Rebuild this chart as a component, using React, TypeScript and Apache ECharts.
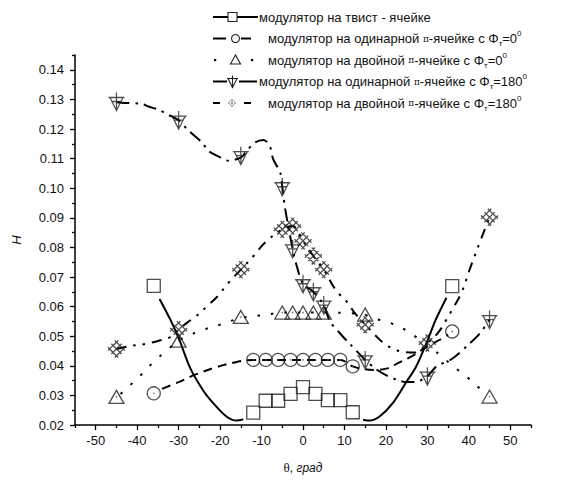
import React, { useEffect, useRef } from 'react';
import * as echarts from 'echarts';

// ---- axis ticks ----
const X_TICKS = [-50, -40, -30, -20, -10, 0, 10, 20, 30, 40, 50];
const X_MINOR = [-55, -45, -35, -25, -15, -5, 5, 15, 25, 35, 45, 55];
const Y_TICKS = [0.02, 0.03, 0.04, 0.05, 0.06, 0.07, 0.08, 0.09, 0.1, 0.11, 0.12, 0.13, 0.14];
const Y_MINOR = [0.025, 0.035, 0.045, 0.055, 0.065, 0.075, 0.085, 0.095, 0.105, 0.115, 0.125, 0.135, 0.145];

// ---- legend labels ----
const LABELS = [
  'модулятор на твист - ячейке',
  'модулятор на одинарной π-ячейке с Φт=0⁰',
  'модулятор на двойной π-ячейке с Φт=0⁰',
  'модулятор на одинарной π-ячейке с Φт=180⁰',
  'модулятор на двойной π-ячейке с Φт=180⁰',
];

// ---- measured points ----
const twistX = [-36, -12, -9, -6, -3, 0, 3, 6, 9, 12, 36];
const twistH = [0.067, 0.0242, 0.0282, 0.0282, 0.0305, 0.0328, 0.0305, 0.0284, 0.0284, 0.0243, 0.0669];

const single0X = [-36, -12, -9, -6, -3, 0, 3, 6, 9, 12, 36];
const single0H = [0.0307, 0.042, 0.042, 0.042, 0.042, 0.042, 0.042, 0.042, 0.042, 0.0398, 0.0516];

const double0X = [-45, -30, -15, -5, -2.5, 0, 2.5, 5, 15, 45];
const double0H = [0.0295, 0.0485, 0.0565, 0.058, 0.058, 0.058, 0.058, 0.058, 0.0573, 0.0296];

const single180X = [-45, -30, -15, -5, -2.5, 0, 2.5, 5, 15, 30, 45];
const single180H = [0.1293, 0.123, 0.111, 0.1005, 0.0795, 0.0677, 0.065, 0.0605, 0.042, 0.0365, 0.0556];

const double180X = [-45, -30, -15, -5, -2.5, 0, 2.5, 5, 15, 30, 45];
const double180H = [0.0457, 0.0522, 0.0725, 0.0861, 0.0872, 0.0822, 0.0771, 0.0725, 0.0539, 0.0477, 0.0902];

// ---- fitted curves ----
const twistFitL = [[-34.6, 0.0626], [-32, 0.0556], [-30, 0.0494], [-27.2, 0.0392], [-24, 0.0315], [-21.6, 0.0273], [-18.4, 0.0228], [-16, 0.0215], [-14.4, 0.0219]];
const twistFitR = [[14.5, 0.0218], [16, 0.0215], [18.4, 0.0228], [21.6, 0.0273], [25, 0.0347], [27.2, 0.0395], [29.8, 0.0477], [32, 0.0555], [34.6, 0.063]];
const single0Fit = [[-34, 0.0322], [-30, 0.0345], [-26, 0.037], [-21, 0.0395], [-16, 0.0413], [-12, 0.042], [9, 0.042], [12, 0.0398], [15, 0.0388], [17.7, 0.0386], [20.6, 0.0392], [23, 0.041], [26.2, 0.0432], [30, 0.0465], [33, 0.0488], [35, 0.0505]];
const double0Fit = [[-44, 0.0305], [-39.3, 0.0366], [-35.9, 0.0415], [-32.7, 0.0454], [-30, 0.0485], [-27.6, 0.0502], [-24, 0.0522], [-20, 0.0539], [-15, 0.0562], [-12.4, 0.0567], [-8.7, 0.0573], [-5, 0.058], [5, 0.058], [11, 0.0578], [15, 0.0572], [17.7, 0.0558], [21, 0.0545], [24.6, 0.0522], [28, 0.049], [31, 0.046], [34, 0.0425], [37, 0.039], [39.4, 0.0364], [43, 0.0319], [44.5, 0.0302]];
const single180Fit = [[-45, 0.129], [-42.9, 0.1288], [-39, 0.1285], [-37.3, 0.1276], [-35, 0.1266], [-32.4, 0.1247], [-30, 0.123], [-28, 0.12], [-24.4, 0.1155], [-22.8, 0.1126], [-20.8, 0.111], [-18, 0.1093], [-15, 0.1103], [-13.6, 0.1126], [-11.5, 0.1155], [-9.5, 0.1163], [-8, 0.1142], [-7.2, 0.1098], [-5.5, 0.1053], [-5, 0.1005], [-4.3, 0.093], [-2.5, 0.0795], [-1.5, 0.0737], [0, 0.0677], [2.5, 0.065], [5, 0.0605], [6.5, 0.055], [8.9, 0.051], [10.9, 0.048], [15, 0.042], [17.3, 0.0392], [19.8, 0.037], [22.6, 0.0353], [25, 0.0345], [27, 0.0345], [30, 0.0365], [32.2, 0.0398], [35.8, 0.0422], [39.8, 0.047], [42.7, 0.051], [45, 0.0556]];
const double180Fit = [[-45, 0.0457], [-42, 0.0466], [-38, 0.0474], [-35, 0.0484], [-32, 0.0497], [-30, 0.0522], [-28, 0.0545], [-25.6, 0.057], [-23, 0.0603], [-20.6, 0.0635], [-18, 0.068], [-15, 0.0725], [-12, 0.077], [-9.2, 0.0816], [-5, 0.0861], [-2.5, 0.0872], [0, 0.0822], [2.5, 0.0771], [5, 0.0725], [7.3, 0.0669], [8.9, 0.064], [10.5, 0.0618], [12.5, 0.0578], [15, 0.0539], [17.3, 0.0505], [19, 0.0482], [21.4, 0.046], [23.8, 0.0448], [27, 0.0445], [30, 0.0477], [32.5, 0.051], [34.6, 0.0556], [36.2, 0.0595], [38.2, 0.0646], [40.5, 0.0737], [43, 0.083], [45, 0.0902]];

const DOWN_TRI = 'path://M8 0L8 18M0 5L16 5M3.3 9L12.7 9M1.5 5L8 18L14.5 5';
const HATCH = 'path://M0 6L6 0M2 8L8 2M4 10L10 4M0 4L6 10M2 2L8 8M4 0L10 6';

const FONT = '"Liberation Sans", Arial, sans-serif';
const INK = '#111';
const MK = '#222';

const zip = (xs: number[], ys: number[]) => xs.map((x, i) => [x, ys[i]]);

function fitLine(data: number[][], dash: any, smooth = 0.35) {
  return {
    type: 'line', data, symbol: 'none', smooth, silent: true, z: 2,
    lineStyle: { color: '#000', width: 2, type: dash, cap: 'butt' },
  };
}
function markers(data: number[][], symbol: string, size: any) {
  return {
    type: 'scatter', data, symbol, symbolSize: size, silent: true, z: 3,
    itemStyle: { color: 'none', borderColor: MK, borderWidth: 1.3 },
  };
}
function dots(data: number[][]) {
  return {
    type: 'scatter', data, symbol: 'circle', symbolSize: 1.6, silent: true, z: 4,
    itemStyle: { color: '#555' },
  };
}

function legendRich(label: string) {
  const m = label.match(/^(.*?)π(.*?Φ)т=(\d+)⁰$/);
  if (!m) return `{n|${label}}`;
  return `{n|${m[1]}}{p|π}{n|${m[2]}}{sb|т}{n|=${m[3]}}{sp|0}`;
}

function buildLegend() {
  const els: any[] = [];
  const rows = [17, 38.5, 60, 81.5, 103];
  const textX = [259, 268, 268, 259, 268];
  const lw = { stroke: '#000', lineWidth: 2 };
  const mk = { stroke: MK, lineWidth: 1.1, fill: 'none' };
  els.push({ type: 'line', shape: { x1: 213, y1: rows[0], x2: 258, y2: rows[0] }, style: lw });
  els.push({ type: 'rect', shape: { x: 228, y: rows[0] - 4.5, width: 9, height: 9 }, style: { ...mk, fill: '#fff' } });
  els.push({ type: 'line', shape: { x1: 213, y1: rows[1], x2: 226, y2: rows[1] }, style: lw });
  els.push({ type: 'line', shape: { x1: 241, y1: rows[1], x2: 251, y2: rows[1] }, style: lw });
  els.push({ type: 'circle', shape: { cx: 235.5, cy: rows[1], r: 4 }, style: mk });
  els.push({ type: 'rect', shape: { x: 214, y: rows[2] - 1, width: 2.2, height: 2.2 }, style: { fill: '#000' } });
  els.push({ type: 'rect', shape: { x: 251, y: rows[2] - 1, width: 2.2, height: 2.2 }, style: { fill: '#000' } });
  els.push({ type: 'polygon', shape: { points: [[235.5, rows[2] - 5], [230.5, rows[2] + 4], [240.5, rows[2] + 4]] }, style: mk });
  els.push({ type: 'line', shape: { x1: 213, y1: rows[3], x2: 227, y2: rows[3] }, style: lw });
  els.push({ type: 'line', shape: { x1: 239, y1: rows[3], x2: 257, y2: rows[3] }, style: lw });
  const c4 = 232.5, y4 = rows[3];
  els.push({ type: 'line', shape: { x1: c4, y1: y4 - 6, x2: c4, y2: y4 + 6 }, style: mk });
  els.push({ type: 'line', shape: { x1: c4 - 5.5, y1: y4 - 3, x2: c4 + 5.5, y2: y4 - 3 }, style: mk });
  els.push({ type: 'polyline', shape: { points: [[c4 - 4.5, y4 - 3], [c4, y4 + 6], [c4 + 4.5, y4 - 3]] }, style: mk });
  els.push({ type: 'line', shape: { x1: 213, y1: rows[4], x2: 220, y2: rows[4] }, style: lw });
  els.push({ type: 'line', shape: { x1: 244, y1: rows[4], x2: 251, y2: rows[4] }, style: lw });
  const c5 = 232, y5 = rows[4], s = 0.78;
  const hs = [[0, 6, 6, 0], [2, 8, 8, 2], [4, 10, 10, 4], [0, 4, 6, 10], [2, 2, 8, 8], [4, 0, 10, 6]];
  hs.forEach(([a, b, c, d]) => els.push({
    type: 'line',
    shape: { x1: c5 + (a - 5) * s, y1: y5 + (b - 5) * s, x2: c5 + (c - 5) * s, y2: y5 + (d - 5) * s },
    style: { stroke: '#999', lineWidth: 1 },
  }));
  LABELS.forEach((lab, i) => {
    els.push({
      type: 'text', x: textX[i], y: rows[i],
      style: {
        text: legendRich(lab), fill: INK, verticalAlign: 'middle',
        rich: {
          n: { fontFamily: FONT, fontSize: 13, lineHeight: 18, fill: INK },
          p: { fontFamily: '"DejaVu Serif", serif', fontSize: 9, lineHeight: 18, fill: INK },
          sb: { fontFamily: FONT, fontSize: 8, lineHeight: 8, verticalAlign: 'bottom', fill: INK },
          sp: { fontFamily: FONT, fontSize: 8, lineHeight: 8, verticalAlign: 'top', fill: INK },
        },
      },
    });
  });
  return els;
}

export default function App() {
  const ref = useRef<HTMLDivElement>(null);
  useEffect(() => {
    if (!ref.current) return;
    const chart = echarts.init(ref.current, null, { renderer: 'svg' });
    const axisCommon = { min: -55, max: 55, type: 'value' as const };
    chart.setOption({
      animation: false,
      backgroundColor: '#fff',
      grid: { left: 75, top: 55, width: 456, height: 370, outerBoundsMode: 'none' },
      xAxis: [
        {
          ...axisCommon, position: 'bottom',
          name: '{t|θ}{n|, }{i|град}', nameLocation: 'middle', nameGap: 36,
          nameTextStyle: {
            rich: {
              t: { fontFamily: '"Liberation Serif", serif', fontSize: 13, color: INK },
              n: { fontFamily: FONT, fontSize: 12, color: INK },
              i: { fontFamily: FONT, fontSize: 12, fontStyle: 'italic', color: INK },
            },
          },
          axisLine: { show: true, onZero: false, lineStyle: { color: '#000', width: 1.5 } },
          axisTick: { show: true, inside: false, length: 5, customValues: X_TICKS, lineStyle: { color: '#000', width: 1.3 } },
          axisLabel: { customValues: X_TICKS, margin: 9, fontFamily: FONT, fontSize: 13, color: INK },
          splitLine: { show: false },
        },
        {
          ...axisCommon, position: 'bottom',
          axisLine: { show: false, onZero: false },
          axisTick: { show: true, inside: false, length: 3, customValues: X_MINOR, lineStyle: { color: '#000', width: 1.3 } },
          axisLabel: { show: false },
          splitLine: { show: false },
        },
      ],
      yAxis: [
        {
          type: 'value', min: 0.02, max: 0.145, position: 'left',
          name: 'H', nameLocation: 'middle', nameGap: 52, nameRotate: 90,
          nameTextStyle: { fontFamily: FONT, fontSize: 13, fontStyle: 'italic', color: INK },
          axisLine: { show: true, onZero: false, lineStyle: { color: '#000', width: 1.5 } },
          axisTick: { show: true, inside: false, length: 5, customValues: Y_TICKS, lineStyle: { color: '#000', width: 1.3 } },
          axisLabel: { customValues: Y_TICKS, margin: 11, fontFamily: FONT, fontSize: 13, color: INK, formatter: (v: number) => v.toFixed(2) },
          splitLine: { show: false },
        },
        {
          type: 'value', min: 0.02, max: 0.145, position: 'left',
          axisLine: { show: false, onZero: false },
          axisTick: { show: true, inside: false, length: 3, customValues: Y_MINOR, lineStyle: { color: '#000', width: 1.3 } },
          axisLabel: { show: false },
          splitLine: { show: false },
        },
      ],
      series: [
        fitLine(twistFitL, 'solid', 0.3),
        fitLine(twistFitR, 'solid', 0.3),
        fitLine(single0Fit, [9, 6]),
        fitLine(double0Fit, [2.5, 11]),
        fitLine(single180Fit, [13, 6, 2.5, 6], 0.3),
        fitLine(double180Fit, [10, 7, 2.5, 7, 2.5, 7]),
        markers(zip(twistX, twistH), 'rect', 13),
        markers(zip(single0X, single0H), 'circle', 13),
        dots(zip(single0X, single0H)),
        markers(zip(double0X, double0H), 'triangle', [15, 13]),
        dots(zip(double0X, double0H)),
        markers(zip(single180X, single180H), DOWN_TRI, [16, 18]),
        markers(zip(double180X, double180H), HATCH, 17),
      ],
      graphic: buildLegend(),
    });
    return () => chart.dispose();
  }, []);
  return <div ref={ref} style={{ position: 'fixed', left: 0, top: 0, width: 578, height: 486 }} />;
}
